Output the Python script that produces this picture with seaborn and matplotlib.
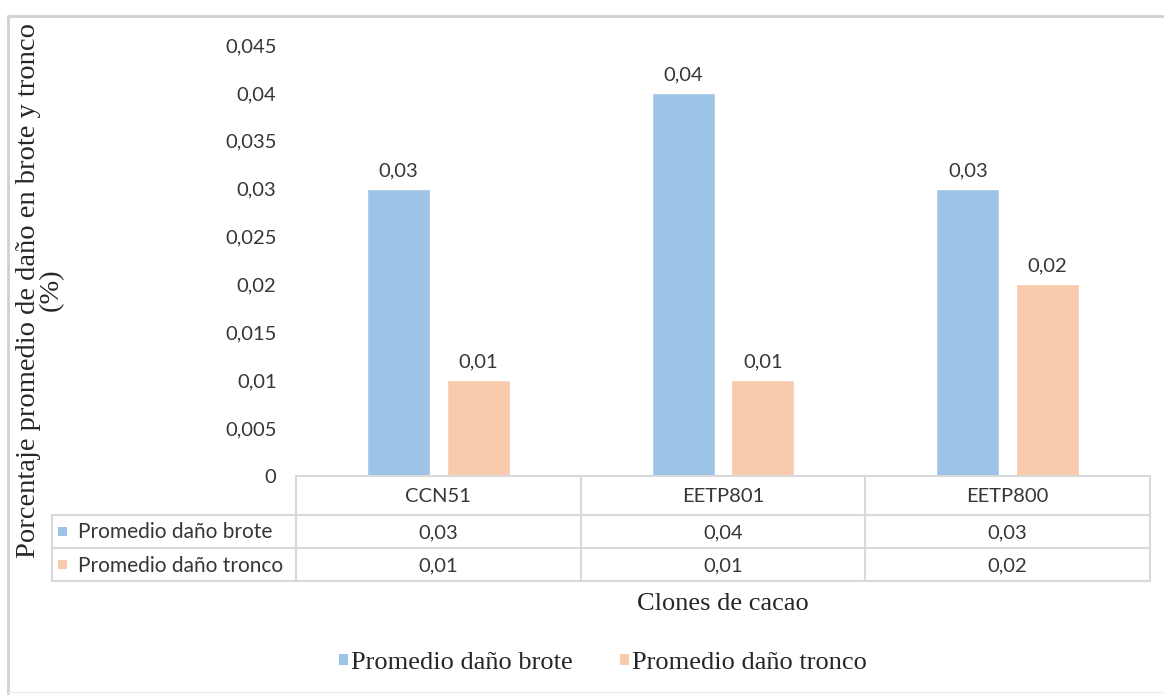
import numpy as np
import pandas as pd
import matplotlib
matplotlib.use("Agg")
import matplotlib.pyplot as plt
from matplotlib.patches import Rectangle
from matplotlib.lines import Line2D
from matplotlib.transforms import blended_transform_factory
import seaborn as sns

# ---- data ----
clones = ["CCN51", "EETP801", "EETP800"]
series = ["Promedio daño brote", "Promedio daño tronco"]
dano_brote = [0.03, 0.04, 0.03]
dano_tronco = [0.01, 0.01, 0.02]
y_ticks = [0, 0.005, 0.01, 0.015, 0.02, 0.025, 0.03, 0.035, 0.04, 0.045]
colors = ["#9DC3E6", "#F8CBAD"]

df = pd.DataFrame({
    "Clon": clones * 2,
    "Serie": [series[0]] * 3 + [series[1]] * 3,
    "Valor": dano_brote + dano_tronco,
})


def coma(v):
    s = f"{v:.3f}".rstrip("0").rstrip(".")
    return s.replace(".", ",")


sns.set_theme(style="white")
SANS = ["Lato", "DejaVu Sans"]
SERIF = ["Liberation Serif", "DejaVu Serif"]
plt.rcParams["font.family"] = SANS

W, H = 1164, 695
fig = plt.figure(figsize=(W / 100, H / 100), dpi=100)
fig.patch.set_facecolor("white")


def fx(px):
    return px / W


def fy(py):
    return 1 - py / H


TXT = "#363636"
FS = 14.5

# plot area
ax_l, ax_r, ax_t, ax_b = 296, 1150, 45, 476
ax = fig.add_axes([fx(ax_l), fy(ax_b), fx(ax_r - ax_l), (ax_b - ax_t) / H])
ax.patch.set_alpha(0)

sns.barplot(data=df, x="Clon", y="Valor", hue="Serie", hue_order=series,
            order=clones, palette=colors, saturation=1, width=0.56, gap=0.21,
            errorbar=None, legend=False, ax=ax)

ax.set_xlim(-0.5, len(clones) - 0.5)
ax.set_ylim(0, 0.045)
ax.set_yticks(y_ticks)
ax.set_yticklabels([coma(t) for t in y_ticks], fontsize=FS, color=TXT)
ax.tick_params(axis="y", length=0, pad=14)
ax.set_xticks([])
ax.set_xlabel("")
ax.set_ylabel("")
for sp in ax.spines.values():
    sp.set_visible(False)

# value labels above bars
for cont, vals in zip(ax.containers, [dano_brote, dano_tronco]):
    ax.bar_label(cont, labels=[coma(v) for v in vals], padding=7,
                 fontsize=FS, color=TXT)

# ---- data table under the axis ----
line_c = "#D9D9D9"
tr = blended_transform_factory(ax.transData, fig.transFigure)
row_lines = [476, 515, 548, 581]
edges = np.arange(len(clones) + 1) - 0.5

# horizontal rules across category columns
for i, yl in enumerate(row_lines):
    fig.add_artist(Line2D([edges[0], edges[-1]], [fy(yl), fy(yl)],
                          transform=tr, color=line_c, lw=1.5))
    if i > 0:
        fig.add_artist(Line2D([fx(52), fx(ax_l)], [fy(yl), fy(yl)],
                              transform=fig.transFigure, color=line_c, lw=1.5))
# vertical rules
for e in edges:
    fig.add_artist(Line2D([e, e], [fy(476), fy(581)], transform=tr,
                          color=line_c, lw=1.5))
fig.add_artist(Line2D([fx(52), fx(52)], [fy(515), fy(581)],
                      transform=fig.transFigure, color=line_c, lw=1.5))

row_mid = [(476 + 515) / 2, (515 + 548) / 2, (548 + 581) / 2]
for j, c in enumerate(clones):
    fig.text(j, fy(row_mid[0] + 1), c, transform=tr, ha="center", va="center",
             fontsize=FS, color=TXT)
    fig.text(j, fy(row_mid[1] + 1), coma(dano_brote[j]), transform=tr,
             ha="center", va="center", fontsize=FS, color=TXT)
    fig.text(j, fy(row_mid[2] + 1), coma(dano_tronco[j]), transform=tr,
             ha="center", va="center", fontsize=FS, color=TXT)

for k, (s, col) in enumerate(zip(series, colors)):
    ym = row_mid[k + 1]
    fig.add_artist(Rectangle((fx(58), fy(ym + 4.5)), fx(9), 9 / H,
                             transform=fig.transFigure, color=col, lw=0))
    fig.text(fx(78), fy(ym + 1), s, ha="left", va="center",
             fontsize=FS + 0.5, color=TXT)

# ---- axis titles ----
fig.text(fx(40), fy(290),
         "Porcentaje promedio de daño en brote y tronco\n(%)",
         rotation=90, ha="center", va="center", multialignment="center",
         fontsize=20.5, family=SERIF, color="#262626", linespacing=0.9)
ax.text(0.5, fy(604), "Clones de cacao",
        transform=blended_transform_factory(ax.transAxes, fig.transFigure),
        ha="center", va="center", fontsize=19, family=SERIF, color="#262626")

# ---- legend ----
handles = [Rectangle((0, 0), 1, 1, color=c, lw=0) for c in colors]
leg = fig.legend(handles, series, loc="center", bbox_to_anchor=(fx(603), fy(663)),
                 ncol=2, frameon=False, handlelength=0.32, handleheight=0.32,
                 handletextpad=0.12, columnspacing=1.8,
                 prop={"family": SERIF, "size": 19})
for t in leg.get_texts():
    t.set_color("#262626")

# ---- chart frame ----
fig.add_artist(Line2D([fx(8), fx(W)], [fy(16), fy(16)], transform=fig.transFigure,
                      color="#D0D0D0", lw=2))
fig.add_artist(Line2D([fx(8), fx(8)], [fy(16), fy(H)], transform=fig.transFigure,
                      color="#D0D0D0", lw=2))
fig.add_artist(Line2D([fx(8), fx(W)], [fy(692), fy(692)], transform=fig.transFigure,
                      color="#EFEFEF", lw=1))

fig.savefig("out.png", dpi=100)
